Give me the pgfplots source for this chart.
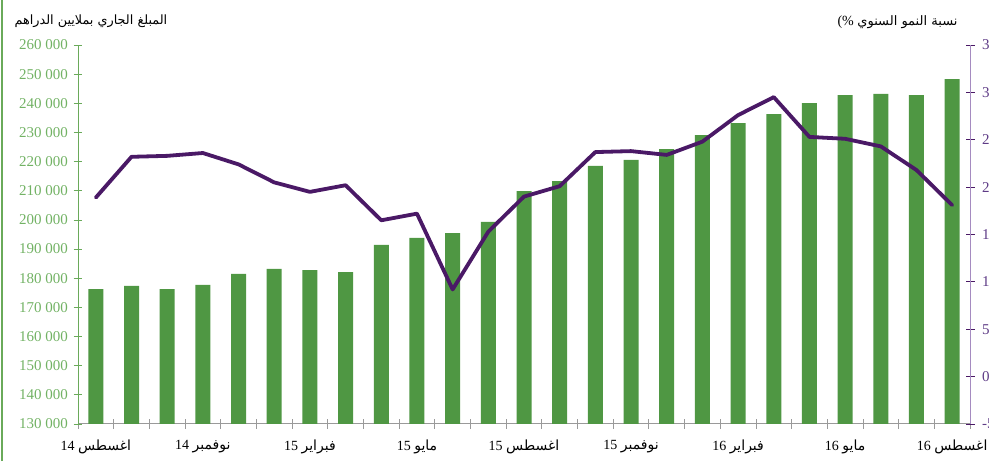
\documentclass[border=0pt]{standalone}
\usepackage{pgfplots}
\usepackage{pgfplotstable}
\pgfplotsset{compat=1.18}
\usepackage{fontspec}
\setmainfont{Liberation Serif}
\newfontfamily\arabicfont[Script=Arabic]{DejaVu Sans}
\TeXXeTstate=1
\definecolor{barg}{HTML}{4F9743}
\definecolor{axg}{HTML}{6AAA5A}
\definecolor{labg}{HTML}{72B264}
\definecolor{linep}{HTML}{4A1966}
\definecolor{axp}{HTML}{A58BC0}
\definecolor{labp}{HTML}{5E3B86}
\definecolor{axgray}{HTML}{9A9A9A}

\pgfplotstableread{
x bar growth
0 176300 18.9
1 177400 23.2
2 176300 23.3
3 177700 23.6
4 181500 22.4
5 183200 20.5
6 182800 19.5
7 182100 20.2
8 191400 16.5
9 193800 17.2
10 195500 9.2
11 199300 15.3
12 209900 19.0
13 213300 20.1
14 218500 23.7
15 220600 23.8
16 224300 23.4
17 229100 24.8
18 233200 27.6
19 236300 29.5
20 240100 25.3
21 242800 25.1
22 243200 24.3
23 242800 21.8
24 248300 18.1
}\data

\newcommand{\ar}[1]{{\arabicfont\beginR #1\endR}}

\begin{document}
\begin{tikzpicture}[x=1pt,y=1pt]
\useasboundingbox (0,0) rectangle (989,461);
\draw[axg, line width=2pt] (2,0) -- (2,461);
\begin{axis}[at={(78pt,37pt)}, anchor=south west, scale only axis,
  width=892pt, height=379pt,
  xmin=-0.5, xmax=24.5, ymin=130000, ymax=260000,
  axis x line*=bottom, axis y line*=left,
  x axis line style={draw=axgray, line width=1pt, -},
  y axis line style={draw=axg, line width=1pt, -},
  tick align=center,
  major tick length=9pt, minor tick length=9pt,
  xtick={0,3,6,9,12,15,18,21,24},
  minor xtick={-0.5,0.5,1.5,2.5,3.5,4.5,5.5,6.5,7.5,8.5,9.5,10.5,11.5,12.5,13.5,14.5,15.5,16.5,17.5,18.5,19.5,20.5,21.5,22.5,23.5,24.5},
  major x tick style={draw=none},
  minor x tick style={draw=axgray, line width=0.8pt},
  scaled y ticks=false,
  ytick={130000,140000,150000,160000,170000,180000,190000,200000,210000,220000,230000,240000,250000,260000},
  yticklabels={130 000,140 000,150 000,160 000,170 000,180 000,190 000,200 000,210 000,220 000,230 000,240 000,250 000,260 000},
  ytick style={draw=axg, line width=0.8pt},
  yticklabel style={font=\fontsize{15}{17}\selectfont, text=labg, xshift=-2pt},
  xticklabel style={font=\fontsize{14}{17}\selectfont, text=black, yshift=-8pt},
  xticklabels={
    {14 \ar{اغسطس}},
    {14 \ar{نوفمبر}},
    {15 \ar{فبراير}},
    {15 \ar{مايو}},
    {15 \ar{اغسطس}},
    {15 \ar{نوفمبر}},
    {16 \ar{فبراير}},
    {16 \ar{مايو}},
    {16 \ar{اغسطس}}},
]
\addplot[ybar, bar width=15pt, fill=barg, draw=none] table[x=x,y=bar]{\data};
\end{axis}
\begin{axis}[at={(78pt,37pt)}, anchor=south west, scale only axis,
  width=892pt, height=379pt,
  xmin=-0.5, xmax=24.5, ymin=-5, ymax=35,
  axis x line=none, axis y line*=right,
  y axis line style={draw=axp, line width=1pt, -},
  tick align=center,
  major tick length=9pt,
  ytick={-5,0,5,10,15,20,25,30,35},
  yticklabels={-5,0,5,10,15,20,25,30,35},
  ytick style={draw=linep, line width=0.8pt},
  yticklabel style={font=\fontsize{15}{17}\selectfont, text=labp, xshift=4pt},
]
\addplot[linep, line width=3.8pt, line join=round, line cap=round] table[x=x,y=growth]{\data};
\end{axis}
\node[anchor=west, font=\fontsize{12.8}{15}\selectfont] at (11,440) {\ar{المبلغ الجاري بملايين الدراهم}};
\node[anchor=east, font=\fontsize{14}{16}\selectfont] at (961,439) {(\%\ {\fontsize{13}{15}\selectfont\ar{نسبة النمو السنوي}}};
\end{tikzpicture}
\end{document}
